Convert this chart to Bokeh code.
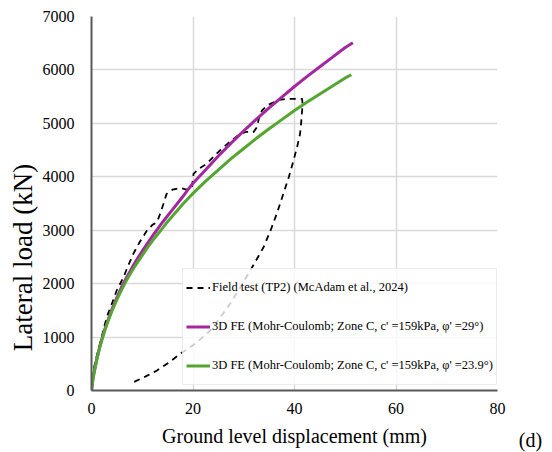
from bokeh.plotting import figure
from bokeh.models import Range1d, FixedTicker, Label
from bokeh.embed import file_html
from bokeh.resources import INLINE

# ---- data ----
field_x = [0, 0.2, 0.5, 0.9, 1.33, 2.0, 2.66, 3.3, 4.0, 5.0, 6.3, 7.2, 8.25, 9.5, 10.9, 12.0,
           12.9, 13.5, 14.2, 14.8, 16.0, 17.5, 18.7, 19.8, 20.1, 21.3, 22.7, 24.3, 26.0, 27.6,
           29.3, 30.5, 31.9, 32.6, 33.0, 33.6, 34.7, 35.9, 37.0, 38.5, 40.0, 41.5,
           41.6, 41.5, 41.3, 41.1, 40.5, 39.8, 38.9, 37.8, 36.5, 35.3, 33.9, 31.3, 29.3,
           27.3, 25.3, 23.4, 20.5, 17.5, 15.2, 12.9, 10.6, 8.25]
field_y = [0, 200, 430, 600, 750, 1000, 1250, 1450, 1620, 1880, 2120, 2330, 2560, 2780, 2990, 3100,
           3150, 3300, 3500, 3680, 3760, 3790, 3760, 3800, 4056, 4160, 4243, 4400, 4554, 4680,
           4805, 4840, 4835, 4928, 5100, 5241, 5340, 5396, 5440, 5459, 5460, 5459,
           5350, 5241, 5000, 4805, 4550, 4305, 4000, 3681, 3307, 3000, 2682, 2246, 1930,
           1622, 1360, 1123, 880, 687, 520, 374, 260, 155]

fe29_x = [0, 0.25, 0.5, 1, 1.5, 2, 2.5, 3, 4, 5, 6, 7, 8, 9, 10, 11, 12, 13, 14, 15, 16, 17,
          18, 19, 20, 22.5, 25, 27.5, 30, 32.5, 35, 37.5, 40, 42.5, 45, 47.5, 50, 51.5]
fe29_y = [0, 190, 330, 570, 770, 950, 1110, 1250, 1510, 1740, 1950, 2130, 2300, 2460, 2610,
          2750, 2890, 3020, 3150, 3270, 3390, 3510, 3630, 3760, 3880, 4130, 4390, 4630, 4860,
          5080, 5290, 5490, 5690, 5880, 6060, 6240, 6420, 6510]

fe239_x = [0, 0.25, 0.5, 1, 1.5, 2, 2.5, 3, 4, 5, 6, 7, 8, 9, 10, 11, 12, 13, 14, 15, 16, 17,
           18, 19, 20, 22.5, 25, 27.5, 30, 32.5, 35, 37.5, 40, 42.5, 45, 47.5, 50, 51.2]
fe239_y = [0, 190, 330, 560, 760, 930, 1090, 1230, 1480, 1700, 1900, 2080, 2240, 2390, 2530,
           2670, 2800, 2920, 3040, 3160, 3270, 3380, 3490, 3590, 3690, 3920, 4130, 4340, 4530,
           4720, 4900, 5070, 5240, 5400, 5550, 5700, 5850, 5910]

x_ticks = [0, 20, 40, 60, 80]
y_ticks = [0, 1000, 2000, 3000, 4000, 5000, 6000, 7000]

labels = ["Field test (TP2) (McAdam et al., 2024)",
          "3D FE (Mohr-Coulomb; Zone C, c' =159kPa, \u03c6' =29\u00b0)",
          "3D FE (Mohr-Coulomb; Zone C, c' =159kPa, \u03c6' =23.9\u00b0)"]

FONT = "Liberation Serif"

p = figure(width=552, height=452, output_backend="svg", toolbar_location=None,
           x_range=Range1d(0, 80), y_range=Range1d(0, 7000),
           min_border_left=91, min_border_right=55, min_border_top=16, min_border_bottom=62)
p.outline_line_color = None
p.background_fill_color = "white"
p.border_fill_color = "white"

p.line(field_x, field_y, line_color="black", line_width=1.8, line_dash="6 5",
       legend_label=labels[0])
p.line(fe29_x, fe29_y, line_color="#a3279f", line_width=3, legend_label=labels[1])
p.line(fe239_x, fe239_y, line_color="#55a630", line_width=3, legend_label=labels[2])

p.xaxis.ticker = FixedTicker(ticks=x_ticks)
p.yaxis.ticker = FixedTicker(ticks=y_ticks)
p.xgrid.ticker = FixedTicker(ticks=x_ticks)
p.ygrid.ticker = FixedTicker(ticks=y_ticks)
for g in (p.xgrid, p.ygrid):
    g.grid_line_color = "#d9d9d9"
    g.grid_line_width = 1.5

for ax in (p.xaxis, p.yaxis):
    ax.axis_line_color = "#595959"
    ax.axis_line_width = 2
    ax.major_tick_line_color = None
    ax.minor_tick_line_color = None
    ax.major_tick_out = 0
    ax.major_tick_in = 0
    ax.major_label_text_font = FONT
    ax.major_label_text_font_size = "16px"
    ax.major_label_text_color = "black"
    ax.axis_label_text_font = FONT
    ax.axis_label_text_font_style = "normal"
    ax.axis_label_text_color = "black"

p.xaxis.axis_label = "Ground level displacement (mm)"
# trailing no-break spaces shift the visible title down, as in the reference
p.yaxis.axis_label = "Lateral load (kN)" + "\u00a0" * 16
p.xaxis.axis_label_text_font_size = "20px"
p.yaxis.axis_label_text_font_size = "27px"
p.xaxis.major_label_standoff = 12
p.yaxis.major_label_standoff = 17
p.xaxis.axis_label_standoff = 8
p.yaxis.axis_label_standoff = 2

leg = p.legend[0]
leg.location = (91, 5)
leg.label_text_font = FONT
leg.label_text_font_size = "12.5px"
leg.label_text_color = "black"
leg.glyph_width = 24
leg.glyph_height = 31
leg.label_height = 31
leg.label_standoff = 2
leg.spacing = 8
leg.padding = 3
leg.margin = 0
leg.border_line_color = "#d9d9d9"
leg.border_line_width = 1
leg.background_fill_alpha = 0.8

tag = Label(x=33, y=-49, x_units="screen", y_units="screen", text="(d)", text_font=FONT,
            text_font_size="20px", text_align="center", text_baseline="middle",
            text_color="black")
p.add_layout(tag, "right")

open("out.html", "w").write(file_html(p, INLINE))
